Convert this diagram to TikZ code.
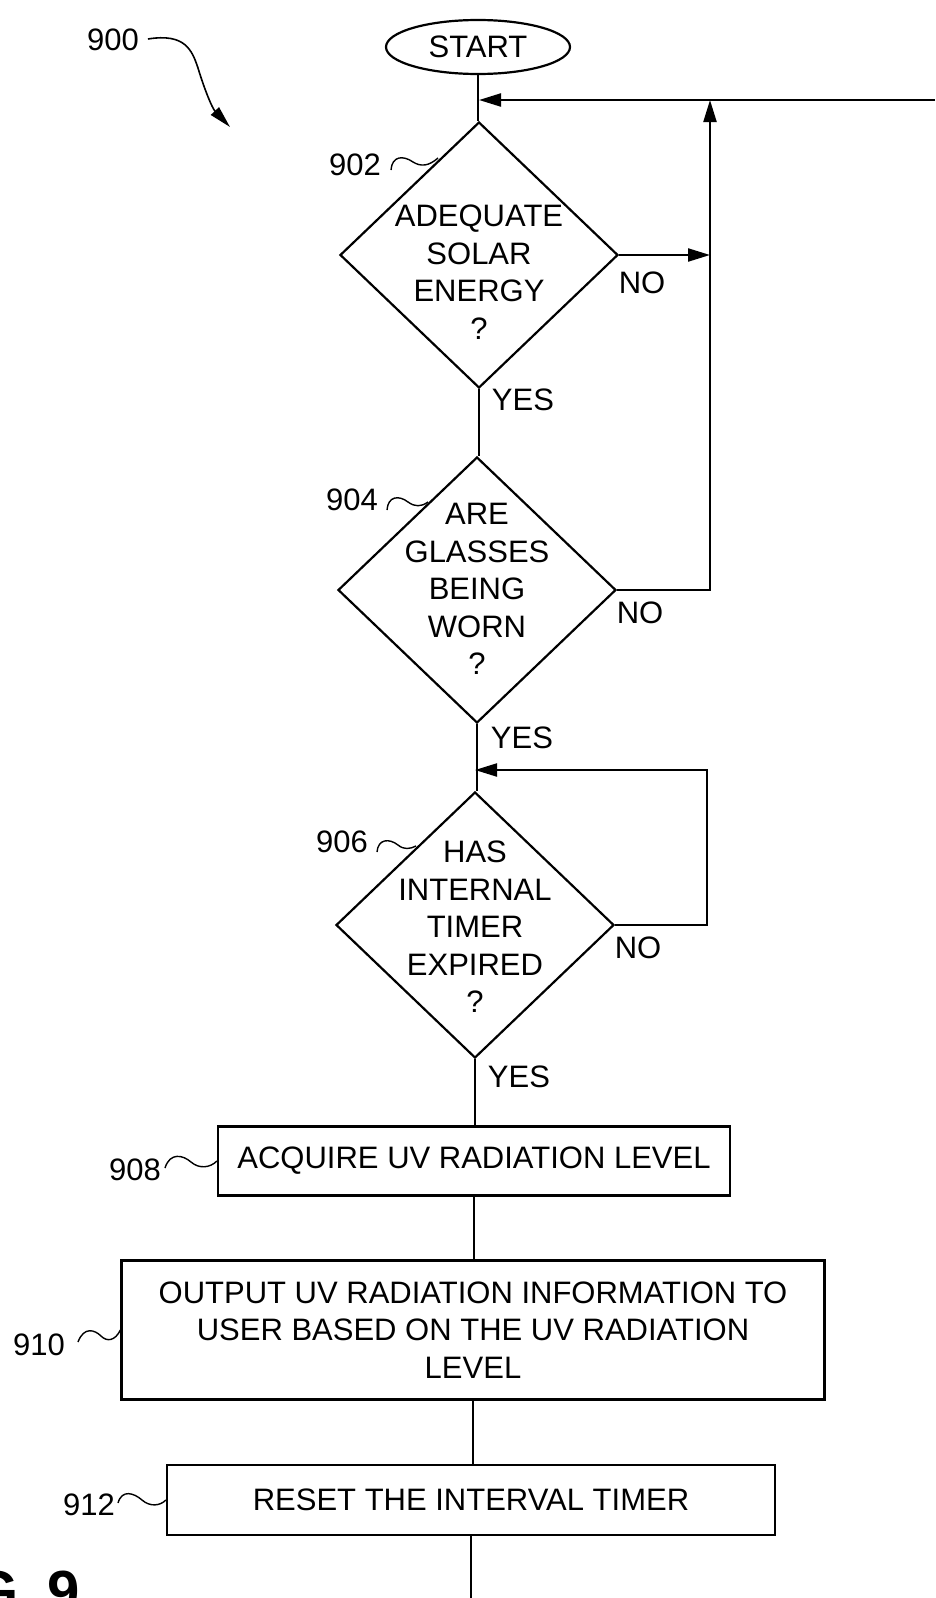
\documentclass[tikz,border=0pt]{standalone}
\usepackage{fontspec}
\setmainfont{Liberation Sans}
\usetikzlibrary{shapes.geometric,arrows.meta}
\begin{document}
\begin{tikzpicture}[x=1pt,y=-1pt,
  line width=2.2pt,
  txt/.style={font=\fontsize{31}{37.5}\selectfont, inner sep=0pt, align=center},
  dia/.style={draw, diamond, inner sep=0pt, minimum width=278pt, minimum height=266pt},
  box/.style={draw, rectangle, inner sep=0pt, txt},
  arr/.style={-{Triangle[length=22pt,width=13pt]}},
  squig/.style={line width=1.4pt},
  lbl/.style={font=\fontsize{31}{37.5}\selectfont, inner sep=0pt},
]
\useasboundingbox (0,0) rectangle (935,1598);

% nodes
\node[draw, ellipse, minimum width=184pt, minimum height=54pt, txt] (start) at (478,47) {START};
\node[dia] (d902) at (479,255) {};
\node[txt] (t902) at (479,272) {ADEQUATE\\SOLAR\\ENERGY\\?};
\node[dia] (d904) at (477,590) {};
\node[txt] (t904) at (477,589) {ARE\\GLASSES\\BEING\\WORN\\?};
\node[dia] (d906) at (475,925) {};
\node[txt] (t906) at (475,927) {HAS\\INTERNAL\\TIMER\\EXPIRED\\?};
\node[box, minimum width=512pt, minimum height=69pt] (b908) at (474,1161) {ACQUIRE UV RADIATION LEVEL};
\node[box, minimum width=703pt, minimum height=139pt] (b910) at (473,1330) {OUTPUT UV RADIATION INFORMATION TO\\USER BASED ON THE UV RADIATION\\LEVEL};
\node[box, minimum width=608pt, minimum height=70pt] (b912) at (471,1500) {RESET THE INTERVAL TIMER};

% reference labels
\node[lbl] (n900) at (113,40) {900};
\node[lbl] (n902) at (355,165) {902};
\node[lbl] (n904) at (352,500) {904};
\node[lbl] (n906) at (342,842) {906};
\node[lbl] (n908) at (135,1170) {908};
\node[lbl] (n910) at (39,1345) {910};
\node[lbl] (n912) at (89,1505) {912};

% yes / no labels
\node[lbl] (no902) at (642,283) {NO};
\node[lbl] (no904) at (640,613) {NO};
\node[lbl] (no906) at (638,948) {NO};
\node[lbl] (yes902) at (523,400) {YES};
\node[lbl] (yes904) at (522,738) {YES};
\node[lbl] (yes906) at (519,1077) {YES};

% figure caption (cut off)
\node[font=\fontsize{58}{58}\selectfont\bfseries, anchor=base west, inner sep=0pt] (fig) at (-28,1611) {G\hspace{13pt} 9};

% coordinates
\coordinate (rt) at (935,100);
\coordinate (jx) at (710,100);
\coordinate (l906) at (707,770);
\coordinate (bot) at (471,1598);

% connectors
\draw (start.south) -- (start.south |- d902.north);
\draw[arr] (rt) -- (rt -| d902.north);
\draw[arr] (d902.east) -- (d902.east -| jx);
\draw[arr] (d904.east) -- (d904.east -| jx) -- (jx);
\draw (d902.south) -- (d902.south |- d904.north);
\draw (d904.south) -- (d904.south |- d906.north);
\draw[arr] (d906.east) -| (l906) -- (l906 -| d906.north);
\draw (d906.south) -- (d906.south |- b908.north);
\draw (b908.south) -- (b908.south |- b910.north);
\draw (b910.south) -- (b910.south |- b912.north);
\draw (b912.south) -- (bot);

% 900 pointer
\draw[line width=1.6pt, -{Triangle[length=22pt,width=11pt]}] (n900.east) ++(8,-1) .. controls (185,33) and (192,50) .. (198,68) .. controls (204,88) and (212,108) .. (230,127);

% squiggle leaders
\draw[squig] (391,170) .. controls (392,156) and (403,155) .. (413,162) .. controls (421,167) and (429,166) .. (438,158);
\draw[squig] (387,510) .. controls (388,496) and (399,495) .. (408,502) .. controls (415,507) and (421,507) .. (428,502);
\draw[squig] (377,852) .. controls (378,839) and (389,838) .. (398,845) .. controls (404,850) and (410,849) .. (416,846);
\draw[squig] (165,1168) .. controls (170,1152) and (183,1155) .. (191,1162) .. controls (199,1169) and (210,1168) .. (b908.west);
\draw[squig] (78,1342) .. controls (84,1326) and (95,1330) .. (101,1336) .. controls (107,1342) and (115,1341) .. (b910.west);
\draw[squig] (118,1503) .. controls (122,1489) and (134,1493) .. (142,1500) .. controls (150,1507) and (160,1506) .. (b912.west);
\end{tikzpicture}
\end{document}
